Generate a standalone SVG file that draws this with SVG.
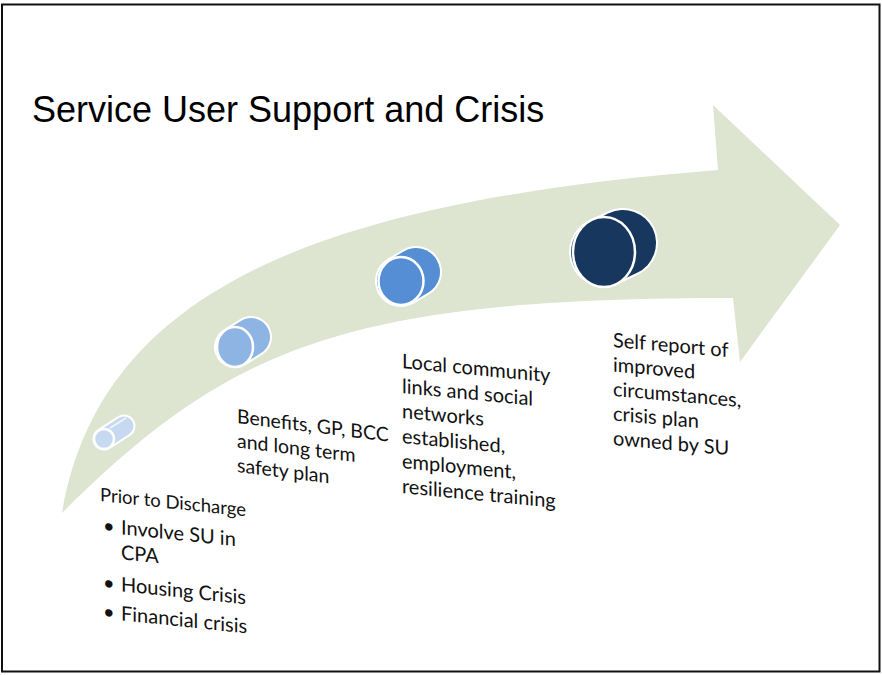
<svg xmlns="http://www.w3.org/2000/svg" width="882" height="675" viewBox="0 0 882 675">
  <style>
    .title { font-family: "Liberation Sans", Arial, sans-serif; font-size: 36px; fill: #000; }
    .lbl { font-family: Lato, "Open Sans", sans-serif; font-size: 19.5px; fill: #111; }
    .lbl-l { font-family: Lato, "Open Sans", sans-serif; font-size: 20px; fill: #111; }
    .cyl-edge { fill: none; stroke: #fff; stroke-linecap: round; }
    .cyl-body { fill: none; stroke-linecap: round; }
    .cyl-face { stroke: #fff; stroke-width: 2.5; }
  </style>

  <!-- slide frame -->
  <rect x="2" y="4.5" width="877.5" height="667" fill="#fff" stroke="#111" stroke-width="2"/>

  <text class="title" x="32" y="122">Service User Support and Crisis</text>

  <!-- curved progress arrow -->
  <g id="connectors">
    <path id="arrow" fill="#dde4cf"
      d="M62,513 C100,290 318,202 718,170 L713,105 L840,225 L740,362 L733,298 C353,298 232,343 62,513 Z"/>
  </g>

  <!-- stage 1: small cylinder -->
  <g id="stage1">
    <line class="cyl-edge" x1="104" y1="439" x2="124" y2="426" stroke-width="23"/>
    <line class="cyl-body" x1="104" y1="439" x2="124" y2="426" stroke="#c6d9f1" stroke-width="19"/>
    <line x1="110" y1="428" x2="126" y2="418" stroke="#fff" stroke-width="1.5" opacity="0.8"/>
    <circle class="cyl-face" cx="104" cy="439" r="10" fill="#c6d9f1"/>
  </g>

  <!-- stage 2 -->
  <g id="stage2">
    <line class="cyl-edge" x1="235" y1="347" x2="251" y2="337" stroke-width="42"/>
    <line class="cyl-body" x1="235" y1="347" x2="251" y2="337" stroke="#8eb4e3" stroke-width="38"/>
    <ellipse class="cyl-face" cx="235" cy="347" rx="18" ry="20" fill="#8eb4e3"/>
  </g>

  <!-- stage 3 -->
  <g id="stage3">
    <line class="cyl-edge" x1="401" y1="281" x2="416" y2="272" stroke-width="52"/>
    <line class="cyl-body" x1="401" y1="281" x2="416" y2="272" stroke="#558ed5" stroke-width="48"/>
    <ellipse class="cyl-face" cx="401" cy="281" rx="22.5" ry="24" fill="#558ed5"/>
  </g>

  <!-- stage 4 -->
  <g id="stage4">
    <line class="cyl-edge" x1="604" y1="252" x2="623" y2="243" stroke-width="70"/>
    <line class="cyl-body" x1="604" y1="252" x2="623" y2="243" stroke="#17375e" stroke-width="66"/>
    <ellipse class="cyl-face" cx="604" cy="252" rx="31" ry="35" fill="#17375e"/>
  </g>

  <!-- stage captions -->
  <g id="caption1" transform="translate(100,501) skewY(6)">
    <text class="lbl" x="0" y="0" style="font-size:18.5px">Prior to Discharge</text>
    <text class="lbl-l" x="3" y="31">•</text>
    <text class="lbl-l" x="21" y="31">Involve SU in</text>
    <text class="lbl-l" x="21" y="56">CPA</text>
    <text class="lbl-l" x="3" y="88">•</text>
    <text class="lbl-l" x="21" y="88">Housing Crisis</text>
    <text class="lbl-l" x="3" y="117">•</text>
    <text class="lbl-l" x="21" y="117">Financial crisis</text>
  </g>

  <g id="caption2" transform="translate(237,423) skewY(7)">
    <text class="lbl" x="0" y="0">Benefits, GP, BCC</text>
    <text class="lbl" x="0" y="24.5">and long term</text>
    <text class="lbl" x="0" y="49">safety plan</text>
  </g>

  <g id="caption3" transform="translate(402,368) skewY(5.5)">
    <text class="lbl-l" x="0" y="0">Local community</text>
    <text class="lbl-l" x="0" y="25">links and social</text>
    <text class="lbl-l" x="0" y="50">networks</text>
    <text class="lbl-l" x="0" y="75">established,</text>
    <text class="lbl-l" x="0" y="100">employment,</text>
    <text class="lbl-l" x="0" y="125">resilience training</text>
  </g>

  <g id="caption4" transform="translate(613,347) skewY(5)">
    <text class="lbl-l" x="0" y="0">Self report of</text>
    <text class="lbl-l" x="0" y="24.5">improved</text>
    <text class="lbl-l" x="0" y="49">circumstances,</text>
    <text class="lbl-l" x="0" y="73.5">crisis plan</text>
    <text class="lbl-l" x="0" y="98">owned by SU</text>
  </g>
</svg>
